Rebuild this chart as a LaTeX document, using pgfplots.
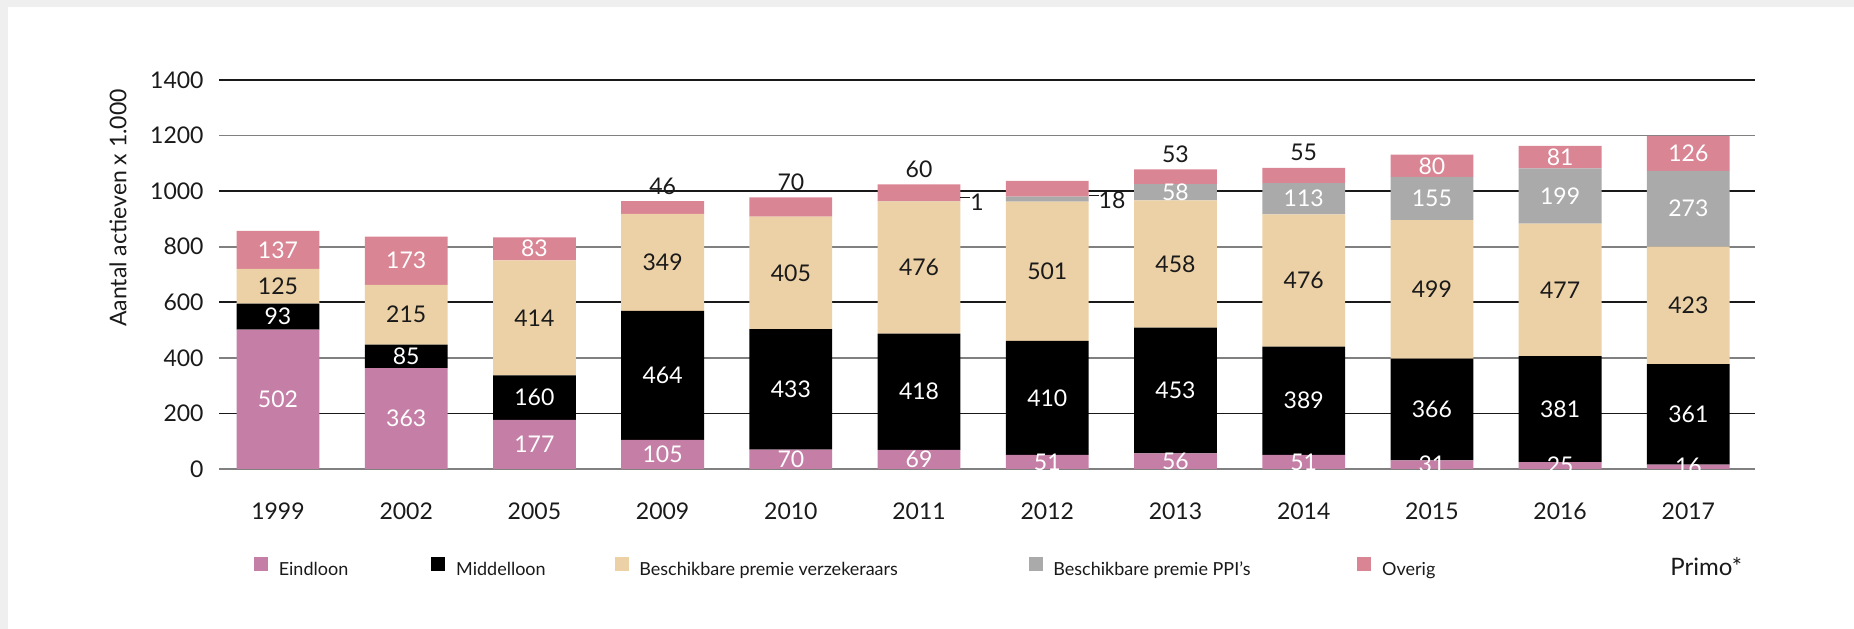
\documentclass[border=0pt]{standalone}
\usepackage{pgfplots}
\pgfplotsset{compat=1.18}
\usepackage{pgfplotstable}
\usepackage{fontspec}
\setmainfont{Lato}
\definecolor{bggray}{HTML}{EFEFEF}
\definecolor{eindc}{HTML}{C57FA7}
\definecolor{midc}{HTML}{000000}
\definecolor{besc}{HTML}{EDD1A6}
\definecolor{ppic}{HTML}{AAAAAA}
\definecolor{ovc}{HTML}{D98594}
\definecolor{txt}{HTML}{1A1A1A}
% label centred in its segment (node sits at the segment's middle)
\protected\def\ctr#1{\smash{\raisebox{-4.1bp}{#1}}}
% label just above the bar
\protected\def\up#1{\smash{\raisebox{\dimexpr0.0694645bp*#1+3.5bp\relax}{\textcolor{txt}{#1}}}}
% label beside the bar with a short leader
\protected\def\side#1{\smash{\makebox[0pt][l]{\hspace{20.7bp}\raisebox{-4.6bp}{\textcolor{txt}{\rule[0.55em]{5bp}{0.6pt}#1}}}}}
\pgfplotstableread{
x eind eindl mid midl bes besl ppi ppil ov ovl
0 502 \ctr{502} 93 \ctr{93} 125 \ctr{125} 0 {} 137 \ctr{137}
1 363 \ctr{363} 85 \ctr{85} 215 \ctr{215} 0 {} 173 \ctr{173}
2 177 \ctr{177} 160 \ctr{160} 414 \ctr{414} 0 {} 83 \ctr{83}
3 105 \ctr{105} 464 \ctr{464} 349 \ctr{349} 0 {} 46 \up{46}
4 70 \ctr{70} 433 \ctr{433} 405 \ctr{405} 0 {} 70 \up{70}
5 69 \ctr{69} 418 \ctr{418} 476 \ctr{476} 1 \side{1} 60 \up{60}
6 51 \ctr{51} 410 \ctr{410} 501 \ctr{501} 18 \side{18} 57 {}
7 56 \ctr{56} 453 \ctr{453} 458 \ctr{458} 58 \ctr{58} 53 \up{53}
8 51 \ctr{51} 389 \ctr{389} 476 \ctr{476} 113 \ctr{113} 55 \up{55}
9 31 \ctr{31} 366 \ctr{366} 499 \ctr{499} 155 \ctr{155} 80 \ctr{80}
10 25 \ctr{25} 381 \ctr{381} 477 \ctr{477} 199 \ctr{199} 81 \ctr{81}
11 16 \ctr{16} 361 \ctr{361} 423 \ctr{423} 273 \ctr{273} 126 \ctr{126}
}\data
\protected\def\lgbox#1#2{\makebox[#1][l]{\hspace{5.4bp}#2}}
\begin{document}
\begin{tikzpicture}
\path[use as bounding box] (0,0) rectangle (927bp,314.5bp);
\fill[bggray] (0,0) rectangle (927bp,314.5bp);
\fill[white] (4bp,0) rectangle (927bp,311bp);
\begin{axis}[
  at={(109.5bp,80bp)}, anchor=south west,
  scale only axis, width=768bp, height=194.5bp,
  ybar stacked, bar width=41.4bp,
  xmin=-0.46, xmax=11.52, ymin=0, ymax=1400,
  clip=false,
  xtick={0,...,11},
  xticklabels={1999,2002,2005,2009,2010,2011,2012,2013,2014,2015,2016,2017},
  ytick={0,400,800,1200},
  extra y ticks={200,600,1000,1400},
  ymajorgrids,
  major grid style={color=black!50, line width=0.8bp},
  extra y tick style={ymajorgrids=true, major grid style={color=black!90, line width=0.8bp}},
  axis line style={draw=none},
  major tick length=0pt, tick style={draw=none},
  /pgf/number format/assume math mode=true,
  /pgf/number format/1000 sep={},
  tick label style={font=\fontsize{11.5bp}{13bp}\selectfont, text=txt},
  yticklabel style={xshift=-4.2bp},
  xticklabel style={anchor=base, yshift=-25.5bp},
  ylabel={Aantal actieven x 1.000},
  every axis y label/.style={at={(rel axis cs:0,1)}, rotate=90, anchor=east,
     yshift=50.5bp, xshift=-1bp, font=\fontsize{11.5bp}{13bp}\selectfont, text=txt},
  nodes near coords, point meta=explicit symbolic,
  every node near coord/.append style={font=\fontsize{11.5bp}{13bp}\selectfont, inner sep=0pt, outer sep=0pt},
  legend columns=5,
  legend image code/.code={\fill[#1] (0bp,-0.25bp) rectangle (7bp,6.75bp);},
  legend style={at={(rel axis cs:0,0)}, anchor=west, xshift=17.5bp, yshift=-49.5bp,
     draw=none, fill=none, inner sep=0pt, outer sep=0pt,
     nodes={inner sep=0pt, font=\fontsize{9bp}{10bp}\selectfont, text=txt},
     column sep=0pt, row sep=0pt},
]
\addplot[fill=eindc, draw=none, every node near coord/.append style={text=white}]
  table[x=x, y=eind, meta=eindl] {\data};
\addlegendentry{\lgbox{81.7bp}{Eindloon}}
\addplot[fill=midc, draw=none, every node near coord/.append style={text=white}]
  table[x=x, y=mid, meta=midl] {\data};
\addlegendentry{\lgbox{84.6bp}{Middelloon}}
\addplot[fill=besc, draw=none, every node near coord/.append style={text=txt}]
  table[x=x, y=bes, meta=besl] {\data};
\addlegendentry{\lgbox{200bp}{Beschikbare premie verzekeraars}}
\addplot[fill=ppic, draw=none, every node near coord/.append style={text=white}]
  table[x=x, y=ppi, meta=ppil] {\data};
\addlegendentry{\lgbox{157.4bp}{Beschikbare premie PPI's}}
\addplot[fill=ovc, draw=none, every node near coord/.append style={text=white}]
  table[x=x, y=ov, meta=ovl] {\data};
\addlegendentry{\lgbox{40bp}{Overig}}
\end{axis}
\node[anchor=west, inner sep=0pt, font=\fontsize{12bp}{14bp}\selectfont, text=txt] at (835bp,31bp) {Primo*};
\end{tikzpicture}
\end{document}
